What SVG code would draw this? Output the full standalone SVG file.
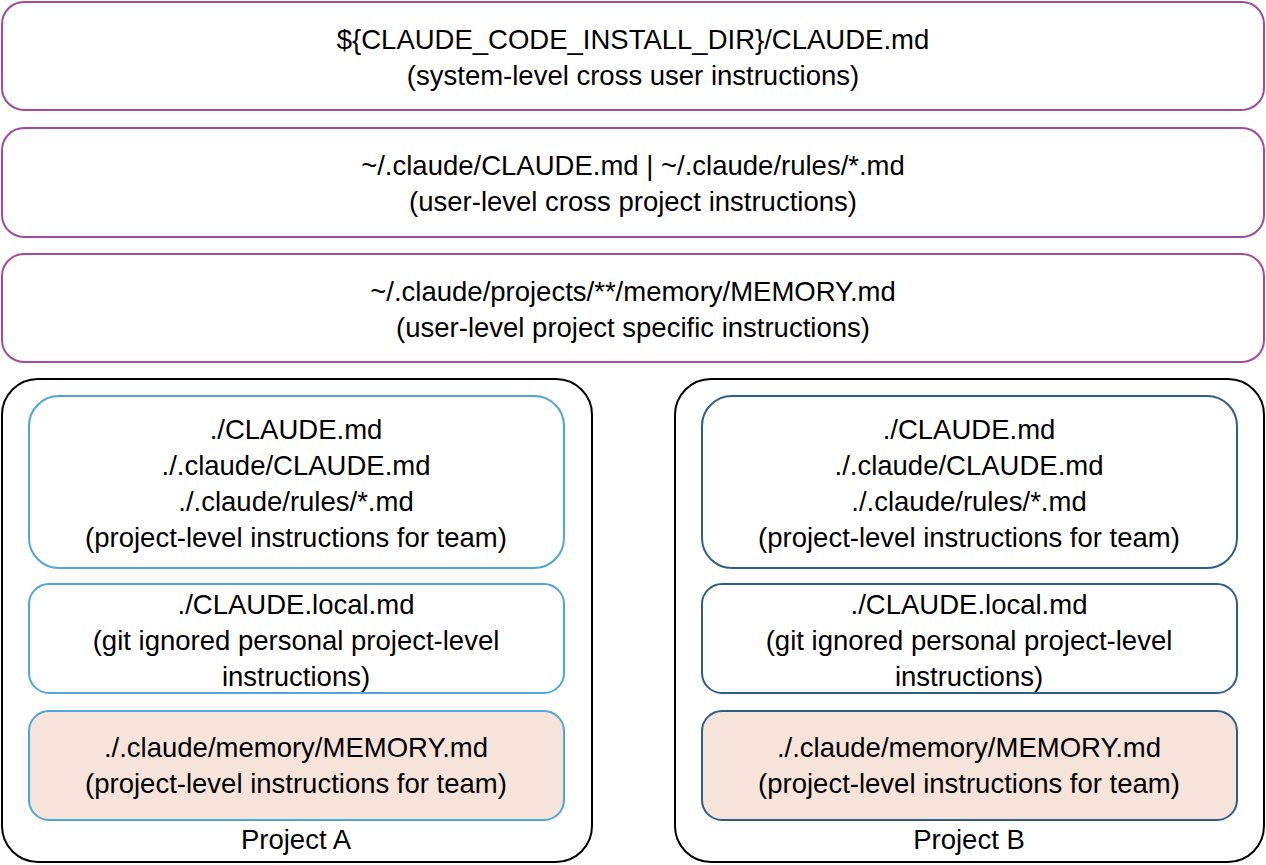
<svg xmlns="http://www.w3.org/2000/svg" width="1266" height="865" viewBox="0 0 1266 865">
<style>
text{font-family:"Liberation Sans",Arial,sans-serif;font-size:27.5px;fill:#000;text-anchor:middle}
.top{fill:#fff;stroke:#a04aa0;stroke-width:2}
.proj{fill:#fff;stroke:#000;stroke-width:2}
.a{fill:#fff;stroke:#4ea6dc;stroke-width:2}
.b{fill:#fff;stroke:#2e5f86;stroke-width:2}
.mem{fill:#f6e3d9}
</style>
<rect width="1266" height="865" fill="#fff"/>
<g id="sys"><rect class="top" x="2" y="2" width="1262" height="108" rx="22"/><text x="633" y="49">${CLAUDE_CODE_INSTALL_DIR}/CLAUDE.md</text><text x="633" y="85">(system-level cross user instructions)</text></g>
<g id="user"><rect class="top" x="2" y="128" width="1262" height="109" rx="22"/><text x="633" y="175">~/.claude/CLAUDE.md | ~/.claude/rules/*.md</text><text x="633" y="211">(user-level cross project instructions)</text></g>
<g id="usermem"><rect class="top" x="2" y="254" width="1262" height="108" rx="22"/><text x="633" y="301">~/.claude/projects/**/memory/MEMORY.md</text><text x="633" y="337">(user-level project specific instructions)</text></g>
<g id="projA"><rect class="proj" x="2" y="379" width="590" height="483" rx="36"/><text x="296" y="849">Project A</text>
<g id="a1"><rect class="a" x="29" y="396" width="535" height="172" rx="30"/><text x="296" y="439">./CLAUDE.md</text><text x="296" y="475">./.claude/CLAUDE.md</text><text x="296" y="511">./.claude/rules/*.md</text><text x="296" y="547">(project-level instructions for team)</text></g>
<g id="a2"><rect class="a" x="29" y="584" width="535" height="109" rx="20"/><text x="296" y="614">./CLAUDE.local.md</text><text x="296" y="650">(git ignored personal project-level</text><text x="296" y="686">instructions)</text></g>
<g id="a3"><rect class="a mem" x="29" y="711" width="535" height="109" rx="20"/><text x="296" y="757">./.claude/memory/MEMORY.md</text><text x="296" y="793">(project-level instructions for team)</text></g>
</g>
<g id="projB"><rect class="proj" x="675" y="379" width="589" height="483" rx="36"/><text x="969" y="849">Project B</text>
<g id="b1"><rect class="b" x="702" y="396" width="535" height="172" rx="30"/><text x="969" y="439">./CLAUDE.md</text><text x="969" y="475">./.claude/CLAUDE.md</text><text x="969" y="511">./.claude/rules/*.md</text><text x="969" y="547">(project-level instructions for team)</text></g>
<g id="b2"><rect class="b" x="702" y="584" width="535" height="109" rx="20"/><text x="969" y="614">./CLAUDE.local.md</text><text x="969" y="650">(git ignored personal project-level</text><text x="969" y="686">instructions)</text></g>
<g id="b3"><rect class="b mem" x="702" y="711" width="535" height="109" rx="20"/><text x="969" y="757">./.claude/memory/MEMORY.md</text><text x="969" y="793">(project-level instructions for team)</text></g>
</g>
<g id="connectors"/>
</svg>
